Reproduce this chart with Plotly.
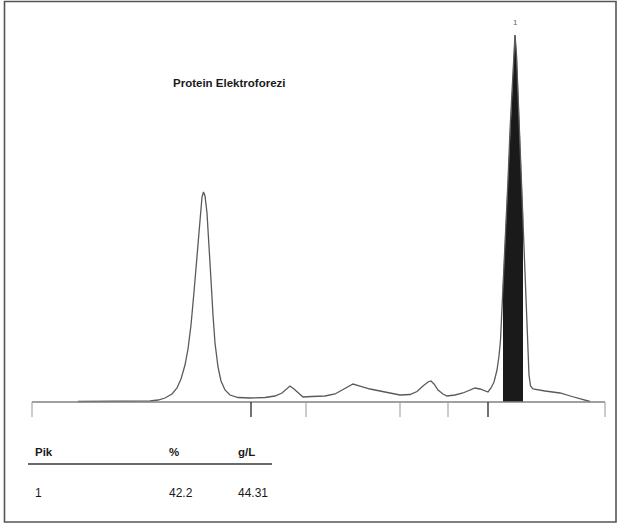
import numpy as np
import plotly.graph_objects as go

# ---------------- data ----------------
# densitometric scan: migration position (arbitrary units) and optical density (a.u.)
positions = [48, 107, 120, 128, 135, 142, 147, 151, 155, 158, 161, 164, 167, 170, 172,
             173.5, 175, 177, 179, 181, 183, 185, 188, 191, 195, 200, 208, 220, 235, 245,
             252, 256, 260, 264, 268, 273, 282, 295, 305, 312, 318, 323, 330, 340, 355,
             370, 380, 387, 393, 398, 401, 404, 408, 413, 417, 425, 433, 440, 445, 450,
             455, 458, 461, 464, 467, 469, 470.5, 472, 474, 476, 478, 480, 482, 483.5, 485,
             486.5, 488, 490, 492, 494, 495.5, 497, 498, 499, 500.5, 503, 515, 530, 542,
             552, 560]
density = [0.5, 0.5, 1, 2, 4, 8, 14, 23, 37, 53, 77, 110, 147, 187, 205,
           210, 206, 189, 160, 122, 87, 59, 35, 21, 12, 7, 4.5, 4, 4.5, 6,
           9, 13, 16, 13, 9, 5, 5.5, 6, 8, 12, 16, 18, 16, 13, 10,
           7, 7.5, 10.5, 16, 20, 21, 18, 12, 8, 6, 7, 9, 12, 14, 13,
           11, 10, 14, 20, 32, 46, 62, 92, 134, 174, 222, 272, 314, 347, 367,
           347, 310, 262, 207, 152, 112, 77, 47, 27, 16, 13, 11, 9, 5.5,
           2.5, 0.5]

# fraction boundaries along the scan (ticks under the baseline)
fraction_boundaries = [2, 221, 276, 370, 418, 458, 575]
boundary_is_main = [False, True, False, False, False, True, False]

# integrated peak (peak 1) limits
peak_limits = [473, 493]
peak_label = "1"

# result table
table_headers = ["Pik", "%", "g/L"]
table_rows = [["1", "42.2", "44.31"]]

title_text = "Protein Elektroforezi"

# ---------------- figure ----------------
W, H = 619, 525
FONT = "Arial, 'Liberation Sans', Helvetica, sans-serif"

x = np.array(positions, dtype=float)
y = np.array(density, dtype=float)

fig = go.Figure()

# filled integrated peak
lo, hi = peak_limits
inside = (x > lo) & (x < hi)
fx = np.concatenate([[lo], x[inside], [hi]])
fy = np.concatenate([[np.interp(lo, x, y)], y[inside], [np.interp(hi, x, y)]])
fig.add_trace(go.Scatter(x=fx, y=fy, mode="lines", fill="tozeroy",
                         fillcolor="#1a1a1a", line=dict(color="#1a1a1a", width=0.5),
                         hoverinfo="skip", showlegend=False))

# scan curve
fig.add_trace(go.Scatter(x=x, y=y, mode="lines",
                         line=dict(color="#5a5a5a", width=1.3),
                         showlegend=False))

shapes = []
# baseline
shapes.append(dict(type="line", xref="x", yref="y",
                   x0=fraction_boundaries[0], x1=fraction_boundaries[-1], y0=0, y1=0,
                   line=dict(color="#808080", width=1.6)))
# boundary ticks
for b, main in zip(fraction_boundaries, boundary_is_main):
    shapes.append(dict(type="line", xref="x", yref="y", x0=b, x1=b, y0=0, y1=-15,
                       line=dict(color="#262626" if main else "#a0a0a0",
                                 width=1.3 if main else 1.1)))
# table rule
shapes.append(dict(type="line", xref="paper", yref="paper",
                   x0=28 / W, x1=272 / W, y0=1 - 464 / H, y1=1 - 464 / H,
                   line=dict(color="#6a6a6a", width=2)))
# outer frame
shapes.append(dict(type="rect", xref="paper", yref="paper",
                   x0=4.5 / W, x1=616 / W, y0=1 - 522 / H, y1=1 - 1.5 / H,
                   line=dict(color="#555555", width=1.6)))

annotations = []
# peak label
ipk = int(np.argmax(y))
annotations.append(dict(x=x[ipk], y=y[ipk], xref="x", yref="y", text=peak_label,
                        showarrow=False, yanchor="bottom", yshift=6,
                        font=dict(family=FONT, size=8, color="#666666")))
# table
col_x = [33, 167, 236]
for cx, h in zip(col_x, table_headers):
    annotations.append(dict(x=cx / W, y=1 - 452 / H, xref="paper", yref="paper",
                            text="<b>" + h + "</b>", showarrow=False,
                            xanchor="left", yanchor="middle",
                            font=dict(family=FONT, size=11.5, color="#1a1a1a")))
for r, row in enumerate(table_rows):
    for cx, v in zip(col_x, row):
        annotations.append(dict(x=cx / W, y=1 - (493 + 30 * r) / H, xref="paper", yref="paper",
                                text=v, showarrow=False, xanchor="left", yanchor="middle",
                                font=dict(family=FONT, size=12, color="#1a1a1a")))

fig.update_layout(
    width=W, height=H,
    margin=dict(l=0, r=0, t=0, b=0),
    paper_bgcolor="white", plot_bgcolor="white",
    title=dict(text="<b>" + title_text + "</b>", x=173 / W, xanchor="left",
               y=1 - 83 / H, yanchor="middle", xref="paper", yref="paper",
               font=dict(family=FONT, size=11.5, color="#1a1a1a")),
    xaxis=dict(range=[-30, W - 30], visible=False, fixedrange=True),
    yaxis=dict(range=[402 - H, 402], visible=False, fixedrange=True),
    shapes=shapes, annotations=annotations,
    showlegend=False,
)

fig.write_html("out.html", config={"displayModeBar": False},
               post_script="document.body.style.margin='0';document.body.style.overflow='hidden';")
